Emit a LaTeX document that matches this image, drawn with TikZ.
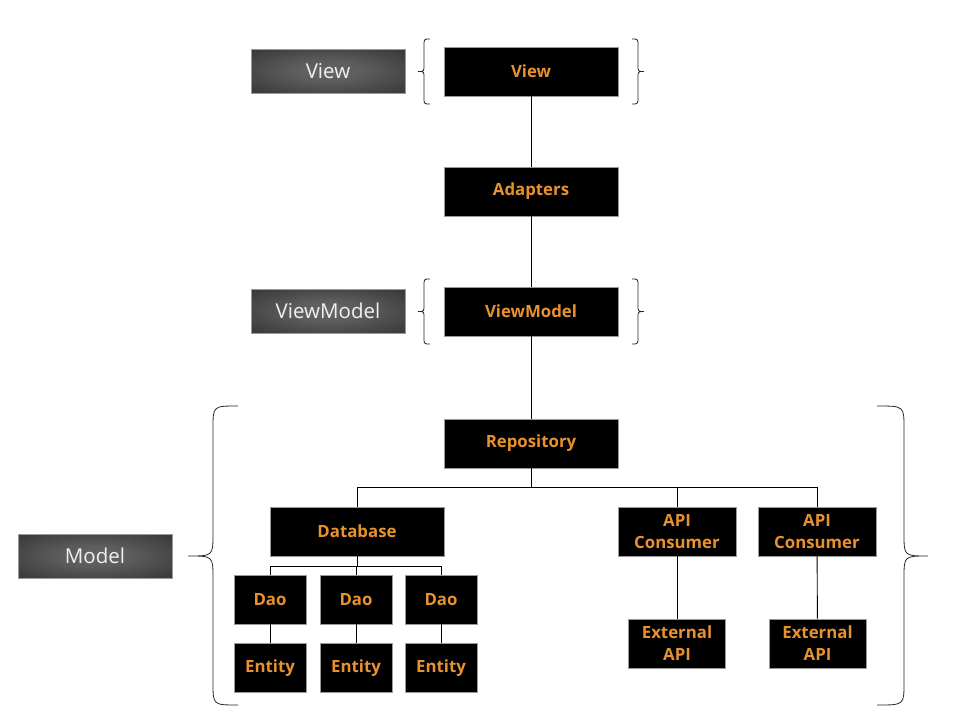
\documentclass[tikz,border=0pt]{standalone}
\usepackage{fontspec}
\setmainfont{Open Sans}
\newfontfamily\labfont{Open Sans}
\usetikzlibrary{positioning}
\definecolor{orng}{HTML}{E8922F}
\definecolor{edge}{HTML}{9A9A9A}
\pgfdeclareradialshading{labshade}{\pgfpoint{0bp}{0bp}}{%
  color(0bp)=(black!60); color(12bp)=(black!64); color(48bp)=(black!86); color(72bp)=(black!88)}
\tikzset{
  box/.style={draw=edge, line width=0.6pt, fill=black, text=orng, inner sep=0pt,
    font=\bfseries\fontsize{16.8}{22}\selectfont, align=center},
  wide/.style={box, minimum width=174pt, minimum height=49pt},
  mid/.style={box, minimum width=118pt, minimum height=49pt},
  ext/.style={box, minimum width=97pt, minimum height=49pt},
  small/.style={box, minimum width=72pt, minimum height=49pt},
  lab/.style={draw=edge, line width=0.6pt, inner sep=0pt, shading=labshade,
    text=white!94!black,
    font=\labfont\fontsize{20.5}{22}\selectfont, minimum width=154pt, minimum height=44pt},
  conn/.style={line width=0.9pt, draw=black},
  brc/.style={line width=0.8pt, draw=black!85}
}
\begin{document}
\begin{tikzpicture}[x=1pt,y=-1pt]
\useasboundingbox (0,0) rectangle (960,720);
% main column
\node[wide] (view) at (531,71.5) {View};
\node[wide] (adapt) at (531,191.5) {Adapters};
\node[wide] (vm) at (531,311.5) {ViewModel};
\node[wide] (repo) at (531,443.5) {Repository};
\node[wide] (db) at (357,531.5) {Database};
\node[mid] (api1) at (677,531.5) {API\\Consumer};
\node[mid] (api2) at (817,531.5) {API\\Consumer};
\node[ext] (ext1) at (677,643.5) {External\\API};
\node[ext] (ext2) at (817.5,643.5) {External\\API};
\node[small] (dao1) at (270,599.5) {Dao};
\node[small] (dao2) at (356,599.5) {Dao};
\node[small] (dao3) at (441,599.5) {Dao};
\node[small] (ent1) at (270,668) {Entity};
\node[small] (ent2) at (356,668) {Entity};
\node[small] (ent3) at (441,668) {Entity};
% labels
\node[lab] (lview) at (328,71) {View};
\node[lab] (lvm) at (328,311) {ViewModel};
\node[lab] (lmodel) at (95,556) {Model};
% connectors
\coordinate (bus) at (531,487);
\coordinate (dbus) at (357,566);
\draw[conn] (view) -- (adapt);
\draw[conn] (adapt) -- (vm);
\draw[conn] (vm) -- (repo);
\draw[conn] (repo) -- (bus) -| (db);
\draw[conn] (bus) -| (api1);
\draw[conn] (bus) -| (api2);
\draw[conn] (db) -- (dbus) -| (dao1);
\draw[conn] (dbus) -| (dao2);
\draw[conn] (dbus) -| (dao3);
\draw[conn] (dao1) -- (ent1);
\draw[conn] (dao2) -- (ent2);
\draw[conn] (dao3) -- (ent3);
\draw[conn] (api1) -- (ext1);
\draw[conn] (api2) -- (ext2);
% braces: View
\draw[brc] (430,39) .. controls (424,39) .. (424,46) -- (424,65) .. controls (424,71.5) .. (418,71.5)
  .. controls (424,71.5) .. (424,78) -- (424,97) .. controls (424,104) .. (430,104);
\draw[brc] (632,39) .. controls (638,39) .. (638,46) -- (638,65) .. controls (638,71.5) .. (644,71.5)
  .. controls (638,71.5) .. (638,78) -- (638,97) .. controls (638,104) .. (632,104);
% braces: ViewModel
\draw[brc] (430,279) .. controls (424,279) .. (424,286) -- (424,305) .. controls (424,311.5) .. (418,311.5)
  .. controls (424,311.5) .. (424,318) -- (424,337) .. controls (424,344) .. (430,344);
\draw[brc] (632,279) .. controls (638,279) .. (638,286) -- (638,305) .. controls (638,311.5) .. (644,311.5)
  .. controls (638,311.5) .. (638,318) -- (638,337) .. controls (638,344) .. (632,344);
% braces: Model
\draw[brc] (238,406) .. controls (213,406) .. (213,428) -- (213,534) .. controls (213,556) .. (188,556)
  .. controls (213,556) .. (213,578) -- (213,683) .. controls (213,705) .. (238,705);
\draw[brc] (877,406) .. controls (904,406) .. (904,428) -- (904,534) .. controls (904,556) .. (928,556)
  .. controls (904,556) .. (904,578) -- (904,683) .. controls (904,705) .. (877,705);
\end{tikzpicture}
\end{document}
